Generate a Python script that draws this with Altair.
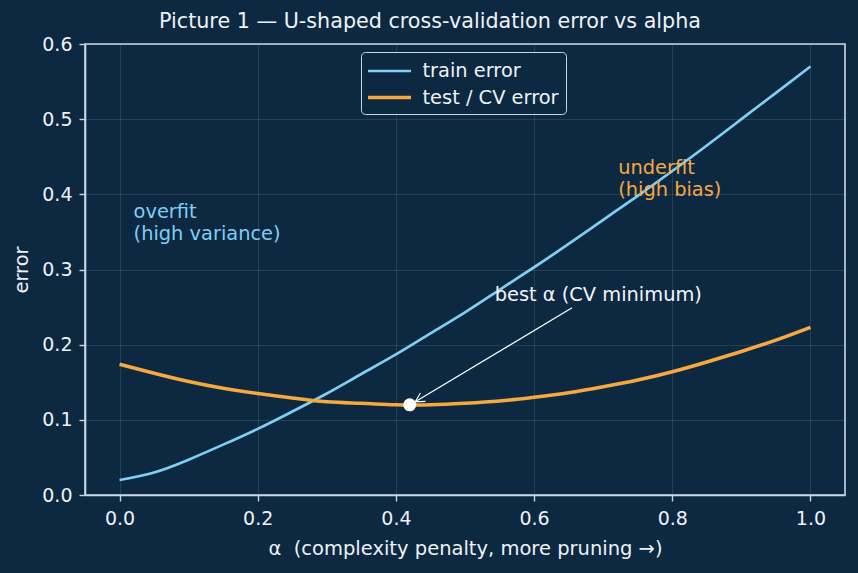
import math
import altair as alt
import pandas as pd

# complexity penalty grid and the two error curves
alpha = [0.00, 0.05, 0.10, 0.15, 0.20, 0.25, 0.30, 0.35, 0.40, 0.45, 0.50,
         0.55, 0.60, 0.65, 0.70, 0.75, 0.80, 0.85, 0.90, 0.95, 1.00]
train_error = [0.020, 0.030, 0.047, 0.067, 0.088, 0.111, 0.135, 0.161, 0.187, 0.215, 0.243,
               0.273, 0.303, 0.334, 0.366, 0.398, 0.431, 0.465, 0.500, 0.535, 0.570]
cv_error = [0.174, 0.162, 0.151, 0.142, 0.135, 0.129, 0.124, 0.122, 0.120, 0.120, 0.122,
            0.125, 0.130, 0.136, 0.144, 0.153, 0.164, 0.177, 0.191, 0.206, 0.223]

series_names = ["train error", "test / CV error"]
series_colors = ["#7fcff5", "#f6a940"]
series_widths = [2.7, 3.6]

# chosen alpha at the CV minimum
best_alpha = [0.42]
best_error = [0.12]

# annotation arrow (text end -> point end)
arrow_x = [0.655]
arrow_y = [0.249]
arrow_x2 = [0.428]
arrow_y2 = [0.124]

note_text = ["best α (CV minimum)", "overfit\n(high variance)", "underfit\n(high bias)"]
note_x = [0.543, 0.0203, 0.7217]
note_y = [0.258, 0.3685, 0.4275]
note_color = ["#f2f5f8", "#7fcff5", "#f6a940"]

BG = "#0d2841"
FG = "#eef2f6"
SPINE = "#c8d6e4"
FONT = "DejaVu Sans"

W, H = 760, 451
X_DOMAIN = [-0.05, 1.05]
Y_DOMAIN = [0.0, 0.6]

curves = pd.DataFrame({
    "alpha": alpha * 2,
    "error": train_error + cv_error,
    "series": [series_names[0]] * len(alpha) + [series_names[1]] * len(alpha),
})

x_scale = alt.Scale(domain=X_DOMAIN, nice=False, zero=False)
y_scale = alt.Scale(domain=Y_DOMAIN, nice=False)

x_axis = alt.Axis(values=[0, 0.2, 0.4, 0.6, 0.8, 1.0], format=".1f",
                  title="α\u00a0\u00a0(complexity penalty, more pruning\u00a0→)")
y_axis = alt.Axis(values=[0, 0.1, 0.2, 0.3, 0.4, 0.5, 0.6], format=".1f", title="error")

# legend swatch: a horizontal stroke twice as long as the layout box it occupies
legend_swatch = "M -2 0 L 2 0"

lines = alt.Chart(curves).mark_line(interpolate="natural").encode(
    x=alt.X("alpha:Q", scale=x_scale, axis=x_axis),
    y=alt.Y("error:Q", scale=y_scale, axis=y_axis),
    color=alt.Color("series:N",
                    scale=alt.Scale(domain=series_names, range=series_colors),
                    legend=alt.Legend(title=None, orient="none", legendX=276, legendY=8,
                                      symbolType=legend_swatch, symbolSize=462,
                                      symbolStrokeWidth=3.2, symbolOffset=9,
                                      labelFontSize=19.4, labelColor=FG, labelOffset=20,
                                      rowPadding=4, padding=6.5, fillColor=BG,
                                      strokeColor=SPINE, cornerRadius=4, labelFont=FONT)),
    strokeWidth=alt.StrokeWidth("series:N",
                                scale=alt.Scale(domain=series_names, range=series_widths),
                                legend=None),
    order=alt.Order("alpha:Q"),
)

best = alt.Chart(pd.DataFrame({"a": best_alpha, "e": best_error})).mark_point(
    filled=True, color="white", opacity=1, size=170
).encode(x=alt.X("a:Q", scale=x_scale), y=alt.Y("e:Q", scale=y_scale))

arrow_df = pd.DataFrame({"x": arrow_x, "y": arrow_y, "x2": arrow_x2, "y2": arrow_y2})
shaft = alt.Chart(arrow_df).mark_rule(color="white", strokeWidth=1.2).encode(
    x=alt.X("x:Q", scale=x_scale), y=alt.Y("y:Q", scale=y_scale),
    x2="x2:Q", y2="y2:Q",
)

# rotate the arrowhead along the shaft in screen space
dx_px = (arrow_x2[0] - arrow_x[0]) * W / (X_DOMAIN[1] - X_DOMAIN[0])
dy_px = -(arrow_y2[0] - arrow_y[0]) * H / (Y_DOMAIN[1] - Y_DOMAIN[0])
head_angle = math.degrees(math.atan2(dy_px, dx_px)) % 360

head = alt.Chart(pd.DataFrame({"x": arrow_x2, "y": arrow_y2})).mark_point(
    shape="M -1 -0.55 L 0 0 L -1 0.55", filled=False, stroke="white",
    strokeWidth=1.2, size=320, angle=head_angle, opacity=1,
).encode(x=alt.X("x:Q", scale=x_scale), y=alt.Y("y:Q", scale=y_scale))

notes = alt.Chart(pd.DataFrame({"t": note_text, "x": note_x, "y": note_y, "c": note_color})).mark_text(
    align="left", baseline="alphabetic", fontSize=19.4, lineBreak="\n", lineHeight=22,
    font=FONT,
).encode(
    x=alt.X("x:Q", scale=x_scale), y=alt.Y("y:Q", scale=y_scale),
    text="t:N", color=alt.Color("c:N", scale=None),
)

chart = alt.layer(lines, shaft, head, best, notes).properties(
    width=W, height=H,
    background=BG,
    padding={"left": 85, "top": 44, "right": 13, "bottom": 78},
    autosize=alt.AutoSizeParams(type="none"),
    title=alt.TitleParams("Picture 1 — U-shaped cross-validation error vs alpha",
                          fontSize=20.7, fontWeight="normal", color=FG,
                          font=FONT, anchor="middle", dx=-35, offset=2),
).configure_view(
    fill=BG, stroke=SPINE, strokeWidth=1.6,
).configure_axis(
    labelFont=FONT, titleFont=FONT,
    labelFontSize=19, titleFontSize=19.5, titleFontWeight="normal",
    labelColor=FG, titleColor=FG,
    domainColor=SPINE, domainWidth=1.6,
    tickColor=SPINE, tickSize=6, tickWidth=1.4,
    gridColor="#ffffff", gridOpacity=0.14, gridWidth=0.8,
    labelPadding=7,
).configure_axisY(titlePadding=10).configure_axisX(titlePadding=11, labelPadding=8)

chart.save("out.html", embed_options={"renderer": "svg", "actions": False})
